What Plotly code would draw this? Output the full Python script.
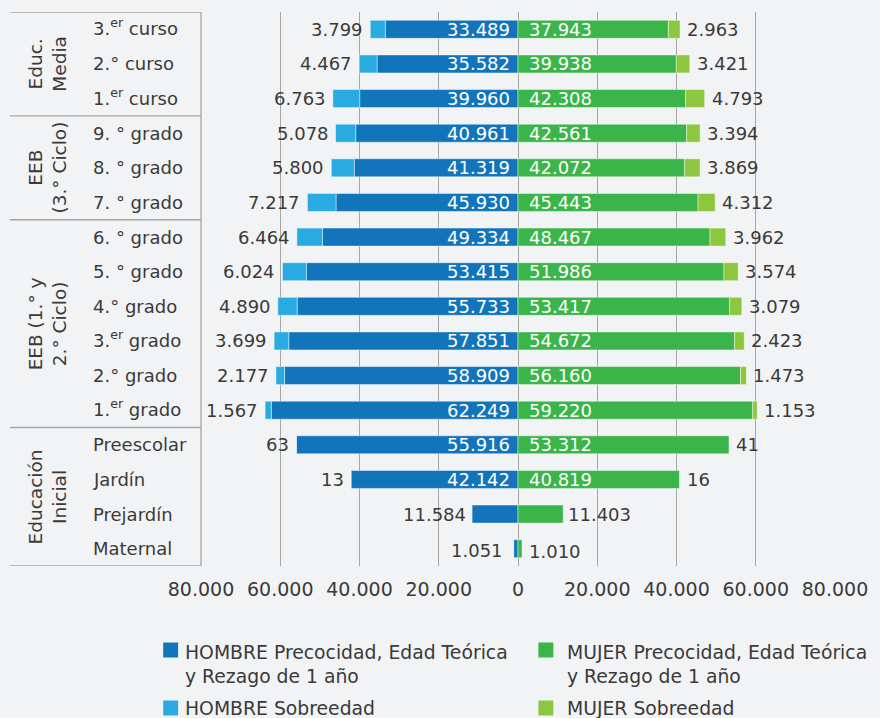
import plotly.graph_objects as go

# ---- data -------------------------------------------------------------
categories = [
    "3.<sup>er</sup> curso", "2.° curso", "1.<sup>er</sup> curso",
    "9. ° grado", "8. ° grado", "7. ° grado",
    "6. ° grado", "5. ° grado", "4.° grado", "3.<sup>er</sup> grado",
    "2.° grado", "1.<sup>er</sup> grado",
    "Preescolar", "Jardín", "Prejardín", "Maternal",
]
groups = ["Educ.<br>Media", "EEB<br>(3.° Ciclo)", "EEB (1.° y<br>2.° Ciclo)", "Educación<br>Inicial"]
group_sizes = [3, 3, 6, 4]

hombre_base = [33489, 35582, 39960, 40961, 41319, 45930, 49334, 53415,
               55733, 57851, 58909, 62249, 55916, 42142, 11584, 1051]
hombre_sobre = [3799, 4467, 6763, 5078, 5800, 7217, 6464, 6024,
                4890, 3699, 2177, 1567, 63, 13, None, None]
mujer_base = [37943, 39938, 42308, 42561, 42072, 45443, 48467, 51986,
              53417, 54672, 56160, 59220, 53312, 40819, 11403, 1010]
mujer_sobre = [2963, 3421, 4793, 3394, 3869, 4312, 3962, 3574,
               3079, 2423, 1473, 1153, 41, 16, None, None]

tick_values = [-80000, -60000, -40000, -20000, 0, 20000, 40000, 60000, 80000]
tick_labels = ["80.000", "60.000", "40.000", "20.000", "0",
               "20.000", "40.000", "60.000", "80.000"]

legend_names = [
    "HOMBRE Precocidad, Edad Teórica<br>y Rezago de 1 año",
    "MUJER Precocidad, Edad Teórica<br>y Rezago de 1 año",
    "HOMBRE Sobreedad",
    "MUJER Sobreedad",
]

# ---- style ------------------------------------------------------------
C_H_BASE = "#1275BC"
C_H_SOBRE = "#29ABE2"
C_M_BASE = "#3BB54A"
C_M_SOBRE = "#8DC63F"
BG = "#F2F3F5"
GRID = "#A6A6A6"
TXT = "#3A3A3A"
FONT = "DejaVu Sans"

W, H = 880, 718
ML, MR, MT, MB = 201, 42, 12, 152
PW, PH = W - ML - MR, H - MT - MB


def px_x(p):
    return (p - ML) / PW


def px_y(p):
    return (H - MB - p) / PH


def fmt(v):
    return f"{v:,}".replace(",", ".")


n = len(categories)
ypos = list(range(n))

fig = go.Figure()
bar_line = dict(color="rgba(255,255,255,0.55)", width=0.8)

fig.add_trace(go.Bar(y=ypos, x=[-v for v in hombre_base], orientation="h",
                     marker=dict(color=C_H_BASE, line=bar_line), width=0.52,
                     name=legend_names[0], showlegend=False, hoverinfo="skip"))
fig.add_trace(go.Bar(y=ypos, x=[-v if v is not None else None for v in hombre_sobre],
                     orientation="h", marker=dict(color=C_H_SOBRE, line=bar_line),
                     width=0.52, name=legend_names[2], showlegend=False, hoverinfo="skip"))
fig.add_trace(go.Bar(y=ypos, x=mujer_base, orientation="h",
                     marker=dict(color=C_M_BASE, line=bar_line), width=0.52,
                     name=legend_names[1], showlegend=False, hoverinfo="skip"))
fig.add_trace(go.Bar(y=ypos, x=mujer_sobre, orientation="h",
                     marker=dict(color=C_M_SOBRE, line=bar_line), width=0.52,
                     name=legend_names[3], showlegend=False, hoverinfo="skip"))

annotations = []
shapes = []

# value labels
INSIDE_MIN = 20000
for i in range(n):
    hb, hs, mb, ms = hombre_base[i], hombre_sobre[i], mujer_base[i], mujer_sobre[i]
    if hb >= INSIDE_MIN:
        annotations.append(dict(x=0, y=i, text=fmt(hb), xanchor="right", xshift=-6,
                                showarrow=False, font=dict(color="white", size=18, family=FONT)))
    else:
        annotations.append(dict(x=-hb, y=i, text=fmt(hb), xanchor="right",
                                xshift=-4 if hb > 5000 else -9, yshift=0 if hb > 5000 else -2,
                                showarrow=False, font=dict(color=TXT, size=18, family=FONT)))
    if mb >= INSIDE_MIN:
        annotations.append(dict(x=0, y=i, text=fmt(mb), xanchor="left", xshift=9,
                                showarrow=False, font=dict(color="white", size=18, family=FONT)))
    else:
        annotations.append(dict(x=mb, y=i, text=fmt(mb), xanchor="left",
                                xshift=3 if mb > 5000 else 5, yshift=0 if mb > 5000 else -3,
                                showarrow=False, font=dict(color=TXT, size=18, family=FONT)))
    if hs is not None:
        annotations.append(dict(x=-(hb + hs), y=i, text=fmt(hs), xanchor="right", xshift=-5,
                                showarrow=False, font=dict(color=TXT, size=18, family=FONT)))
    if ms is not None:
        annotations.append(dict(x=mb + ms, y=i, text=fmt(ms), xanchor="left", xshift=5,
                                showarrow=False, font=dict(color=TXT, size=18, family=FONT)))

# category labels
for i, c in enumerate(categories):
    annotations.append(dict(xref="paper", x=px_x(90), y=i, text=c, xanchor="left",
                            yshift=2 if "<sup>" in c else 0,
                            showarrow=False, font=dict(color=TXT, size=18, family=FONT)))

# group labels and table rules
start = 0
bounds = [-0.5]
for g, s in zip(groups, group_sizes):
    center = start + (s - 1) / 2
    annotations.append(dict(xref="paper", x=px_x(47), y=center, text=g, textangle=-90,
                            xanchor="center", yanchor="middle",
                            showarrow=False, align="center",
                            font=dict(color=TXT, size=18.5, family=FONT)))
    start += s
    bounds.append(start - 0.5)

for b in bounds:
    shapes.append(dict(type="line", xref="paper", x0=px_x(9), x1=0, yref="y", y0=b, y1=b,
                       line=dict(color=GRID, width=1.3)))
shapes.append(dict(type="line", xref="paper", x0=0, x1=0, yref="y", y0=-0.5, y1=n - 0.5,
                   line=dict(color=GRID, width=1.3)))

# legend
leg_items = [
    (C_H_BASE, legend_names[0], 163, 183, 650, 10),
    (C_M_BASE, legend_names[1], 540, 567, 650, 10),
    (C_H_SOBRE, legend_names[2], 163, 183, 708, 12),
    (C_M_SOBRE, legend_names[3], 540, 567, 708, 12),
]
for col, name, sx, tx, cy, dy in leg_items:
    shapes.append(dict(type="rect", xref="paper", yref="paper",
                       x0=px_x(sx), x1=px_x(sx + 15), y0=px_y(cy + 7.5), y1=px_y(cy - 7.5),
                       fillcolor=col, line=dict(width=0)))
    annotations.append(dict(xref="paper", yref="paper", x=px_x(tx), y=px_y(cy - dy),
                            text=name, xanchor="left", yanchor="top", align="left",
                            showarrow=False,
                            font=dict(color=TXT, size=18.8, family=FONT)))

fig.update_layout(
    width=W, height=H,
    margin=dict(l=ML, r=MR, t=MT, b=MB, pad=0),
    paper_bgcolor=BG, plot_bgcolor=BG,
    barmode="relative",
    bargap=0.48,
    showlegend=False,
    font=dict(family=FONT, color=TXT),
    annotations=annotations,
    shapes=shapes,
    xaxis=dict(range=[-80000, 80000], tickvals=tick_values, ticktext=tick_labels,
               showgrid=True, gridcolor=GRID, gridwidth=1.3, zeroline=False,
               showline=False, ticks="", ticklabelstandoff=10,
               tickfont=dict(size=19, color=TXT, family=FONT), fixedrange=True),
    yaxis=dict(range=[n - 0.5, -0.5], showticklabels=False, showgrid=False,
               zeroline=False, showline=False, ticks="", fixedrange=True),
)

fig.write_html("out.html")
